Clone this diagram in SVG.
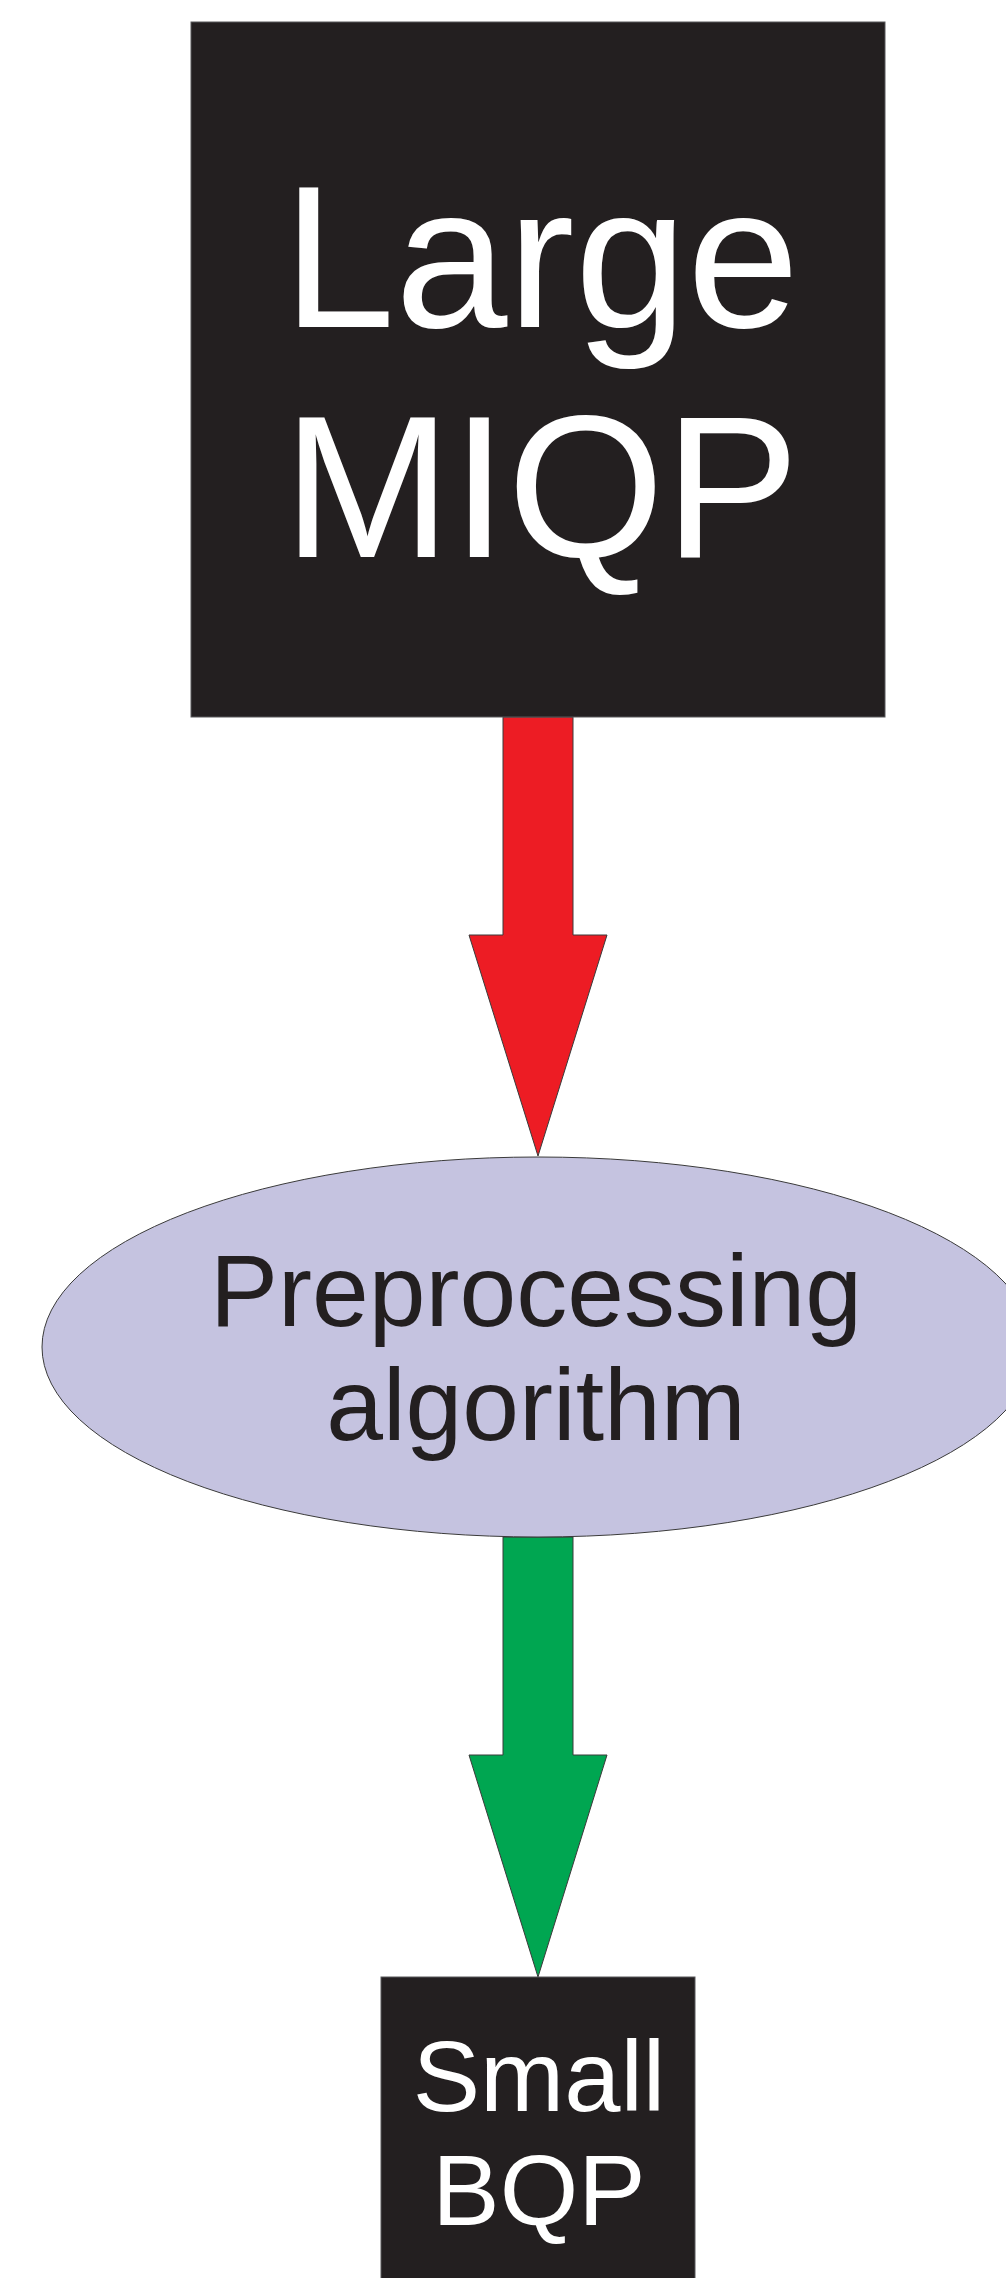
<svg xmlns="http://www.w3.org/2000/svg" width="1006" height="2278" viewBox="0 0 1006 2278">
<style>
.box{fill:#231f20;stroke:#58595b;stroke-width:1}
.wt{fill:#ffffff;font-family:"Liberation Sans",Arial,sans-serif;text-anchor:middle}
.dt{fill:#231f20;font-family:"Liberation Sans",Arial,sans-serif;text-anchor:middle}
.arr{stroke:#3a3a3a;stroke-width:1;stroke-linejoin:miter}
</style>
<rect width="1006" height="2278" fill="#ffffff"/>
<g id="connectors">
<polygon class="arr" fill="#ed1c24" points="503,717 573,717 573,935 607,935 538,1156 469,935 503,935"/>
<polygon class="arr" fill="#00a651" points="503,1537 573,1537 573,1755 607,1755 538,1977 469,1755 503,1755"/>
</g>
<g id="large-miqp">
<rect class="box" x="191" y="22" width="694" height="695"/>
<text class="wt" x="541" y="327" font-size="202">Large</text>
<text class="wt" x="541" y="557" font-size="202">MIQP</text>
</g>
<g id="preprocessing">
<ellipse cx="538" cy="1347" rx="496" ry="190" fill="#c5c3e0" stroke="#3a3a3a" stroke-width="1"/>
<text class="dt" x="536" y="1326" font-size="102">Preprocessing</text>
<text class="dt" x="536" y="1440" font-size="102">algorithm</text>
</g>
<g id="small-bqp">
<rect class="box" x="381" y="1977" width="314" height="310"/>
<text class="wt" x="539" y="2111" font-size="101">Small</text>
<text class="wt" x="539" y="2225" font-size="101">BQP</text>
</g>
</svg>
